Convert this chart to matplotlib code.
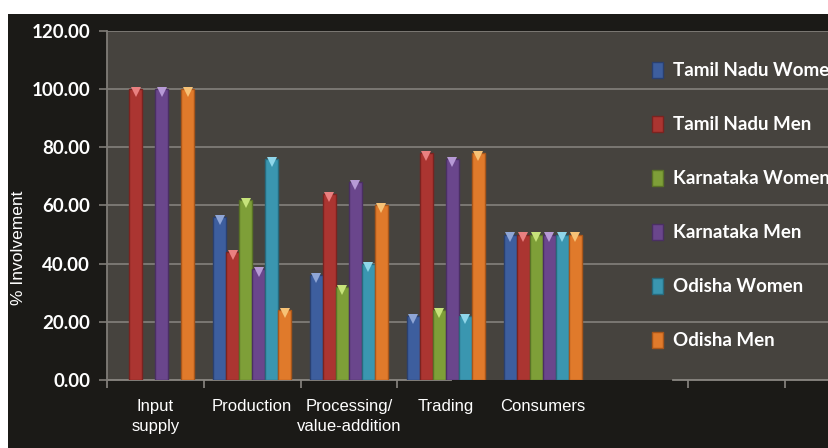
#!/usr/bin/env python3
"""
Grouped bar chart: % involvement of women and men along the value chain
(Tamil Nadu, Karnataka, Odisha)
"""
import numpy as np
import matplotlib
matplotlib.use('Agg')
import matplotlib.pyplot as plt
from matplotlib.patches import Rectangle, Patch

# Data
categories = ['Input\nsupply', 'Production', 'Processing/\nvalue-addition', 'Trading', 'Consumers']
series_names = ['Tamil Nadu Women', 'Tamil Nadu Men', 'Karnataka Women',
                'Karnataka Men', 'Odisha Women', 'Odisha Men']
tn_women = [np.nan, 56, 36, 22, 50]
tn_men = [100, 44, 64, 78, 50]
ka_women = [np.nan, 62, 32, 24, 50]
ka_men = [100, 38, 68, 76, 50]
od_women = [np.nan, 76, 40, 22, 50]
od_men = [100, 24, 60, 78, 50]
y_ticks = [0, 20, 40, 60, 80, 100, 120]

series = [tn_women, tn_men, ka_women, ka_men, od_women, od_men]
colors = ['#3d5e9e', '#ab3531', '#7e9f38', '#6a468c', '#3a96b0', '#e07a2b']
edges = ['#2a4070', '#7a2320', '#5a7326', '#4a2f63', '#276a7d', '#a8561a']
tops = ['#8fa6d6', '#e98080', '#c6e37a', '#b79ad6', '#8fd6ea', '#f7c276']

BOLD_FONT = ['Lato', 'DejaVu Sans']
PLAIN_FONT = ['Liberation Sans', 'DejaVu Sans']

W, H = 829, 448
fig = plt.figure(figsize=(W / 100, H / 100), dpi=100, facecolor='white')

# black chart frame (white margin on top and left)
fig.patches.append(Rectangle((8 / W, 0), 1 - 8 / W, 1 - 14 / H,
                             transform=fig.transFigure, facecolor='#1b1a17',
                             edgecolor='none', zorder=-10))

ax = fig.add_axes([107 / W, 1 - 380 / H, 1 - 107 / W, (380 - 31) / H])
ax.set_facecolor('#46433e')

cat_px = 96.8
x = np.arange(len(categories))
bw = 13 / cat_px
for i, vals in enumerate(series):
    pos = x + (i - 2.5) * bw
    ax.bar(pos, vals, width=bw, color=colors[i], edgecolor=edges[i],
           linewidth=1.0, zorder=3)
    v = np.array(vals, dtype=float)
    ax.plot(pos, v - 1.0, linestyle='none', marker='v', markersize=6.5,
            color=tops[i], markeredgewidth=0, zorder=4)

ax.set_ylim(0, 120)
ax.set_xlim(-0.5, -0.5 + (W - 107) / cat_px)
ax.set_yticks(y_ticks)
ax.set_yticklabels([f'{t:.2f}' for t in y_ticks])
ax.grid(axis='y', color='#7f7c77', linewidth=1.3, zorder=1)
ax.set_axisbelow(True)
ax.yaxis.get_gridlines()[0].set_visible(False)

for s in ['top', 'right', 'bottom']:
    ax.spines[s].set_visible(False)
ax.spines['left'].set_color('#7f7c77')
ax.spines['left'].set_linewidth(1.3)

# bottom axis line, broken as in the original
ax_w = W - 107
ax.axhline(0, xmin=0, xmax=(451 - 107) / ax_w, color='#8a8782', lw=1.3, zorder=2, clip_on=False)
ax.axhline(0, xmin=(673 - 107) / ax_w, xmax=1, color='#8a8782', lw=1.3, zorder=2, clip_on=False)

# tick marks at category boundaries
ax.set_xticks([-0.5, 0.5, 1.5, 2.5, 5.5, 6.5])
ax.set_xticklabels([])
ax.tick_params(axis='x', length=6, width=1.2, color='#8a8782', direction='out')
ax.tick_params(axis='y', length=6, width=1.2, color='#7f7c77', pad=6,
               labelcolor='white', labelsize=13.5)
for lab in ax.get_yticklabels():
    lab.set_fontweight('bold')
    lab.set_family(BOLD_FONT)

for i, c in enumerate(categories):
    ax.text(x[i], -6.5, c, ha='center', va='top', color='white', fontsize=12,
            family=PLAIN_FONT, linespacing=1.45)

ax.set_ylabel('% Involvement', color='white', fontsize=12.5, family=PLAIN_FONT)
ax.yaxis.set_label_coords(-(107 - 26) / ax_w, (380 - 248) / (380 - 31))

handles = [Patch(facecolor=colors[i], edgecolor=edges[i]) for i in range(6)]
leg = fig.legend(handles, series_names, loc='upper left',
                 bbox_to_anchor=(652 / W, 1 - 62 / H), frameon=False,
                 handlelength=0.6, handleheight=0.9, handletextpad=0.5,
                 labelspacing=1.96, borderpad=0, borderaxespad=0,
                 prop={'family': BOLD_FONT, 'weight': 'bold', 'size': 13.5})
for t in leg.get_texts():
    t.set_color('white')

fig.savefig('out.png', dpi=100, facecolor='white')
